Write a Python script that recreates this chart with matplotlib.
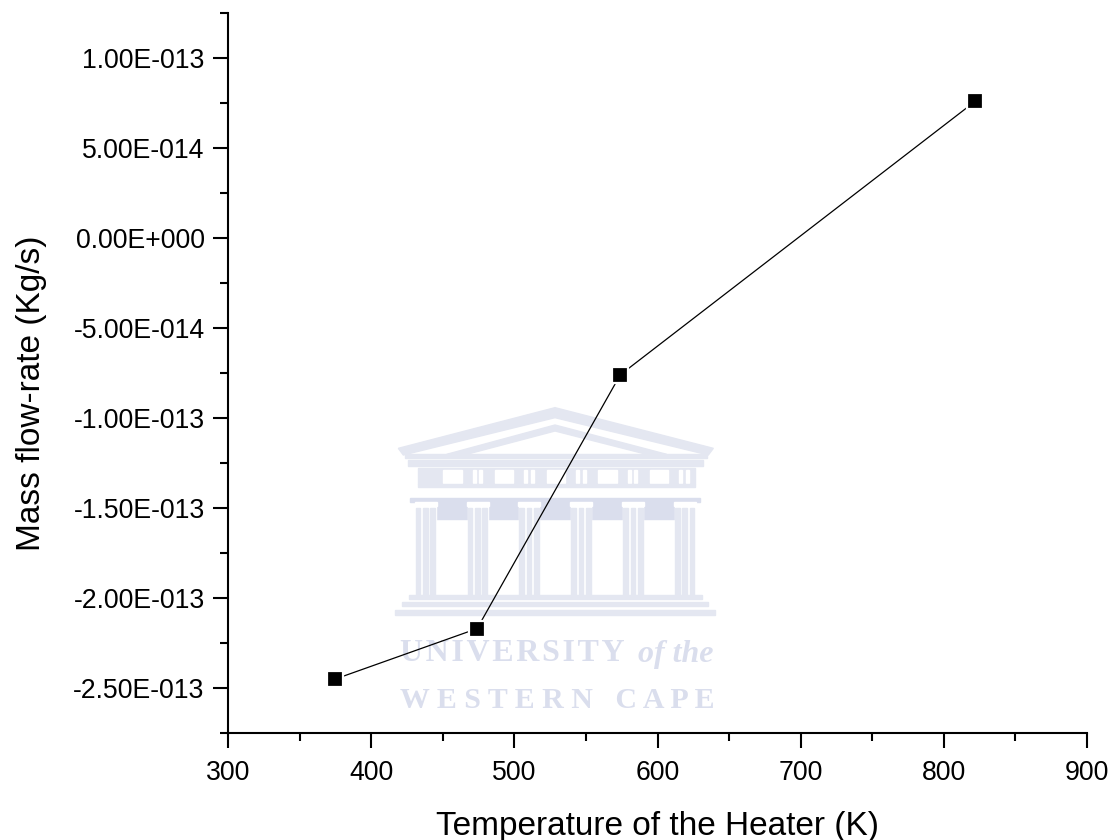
import matplotlib
matplotlib.use('Agg')
import matplotlib.pyplot as plt
from matplotlib.patches import Rectangle, Polygon

plt.rcParams['font.family'] = ['Liberation Sans', 'DejaVu Sans']

temperature = [375, 474, 574, 822]
mass_flow = [-2.45e-13, -2.17e-13, -7.6e-14, 7.6e-14]

x_major = [300, 400, 500, 600, 700, 800, 900]
x_minor = [350, 450, 550, 650, 750, 850]
y_major = [-2.5e-13, -2e-13, -1.5e-13, -1e-13, -5e-14, 0, 5e-14, 1e-13]
y_minor = [-2.75e-13, -2.25e-13, -1.75e-13, -1.25e-13, -7.5e-14, -2.5e-14, 2.5e-14, 7.5e-14, 1.25e-13]
y_labels = ['-2.50E-013', '-2.00E-013', '-1.50E-013', '-1.00E-013', '-5.00E-014',
            '0.00E+000', '5.00E-014', '1.00E-013']

LOGO = '#e4e7f1'
LOGO_DARK = '#dadeed'

column_centers = [137, 293, 448, 604, 760, 915]
window_lefts = [190, 345, 500, 655, 810]


def draw_logo(fig):
    # watermark behind the plot, coordinates are 3x pixels of its own box
    ax = fig.add_axes([380 / 1116, 1 - 725 / 840, 350 / 1116, 330 / 840], zorder=0)
    ax.set_xlim(0, 1050)
    ax.set_ylim(990, 0)
    ax.axis('off')

    ax.add_patch(Polygon([(55, 160), (525, 38), (1000, 160), (985, 180), (525, 68), (70, 180)], color=LOGO))
    ax.add_patch(Polygon([(200, 178), (525, 90), (860, 178), (800, 178), (525, 108), (260, 178)], color=LOGO))
    ax.add_patch(Rectangle((75, 178), 905, 12, color=LOGO))
    ax.add_patch(Rectangle((85, 196), 885, 16, color=LOGO))
    ax.add_patch(Rectangle((115, 220), 830, 48, color=LOGO))
    for left in window_lefts:
        ax.add_patch(Rectangle((left, 225), 55, 38, color='white'))
        ax.add_patch(Rectangle((left + 88, 225), 9, 38, color='white'))
        ax.add_patch(Rectangle((left + 108, 225), 9, 38, color='white'))
    ax.add_patch(Rectangle((115, 268), 830, 7, color=LOGO))
    ax.add_patch(Rectangle((90, 308), 870, 14, color=LOGO_DARK))
    ax.add_patch(Rectangle((110, 322), 830, 50, color=LOGO_DARK))
    for center in column_centers:
        ax.add_patch(Rectangle((center - 33, 320), 66, 14, color='white'))
        ax.add_patch(Rectangle((center - 30, 334), 60, 266, color='white'))
        for offset in (-30, -8, 14):
            ax.add_patch(Rectangle((center + offset, 340), 14, 260, color=LOGO))
    ax.add_patch(Rectangle((88, 600), 878, 12, color=LOGO))
    ax.add_patch(Rectangle((65, 620), 920, 12, color=LOGO))
    ax.add_patch(Rectangle((45, 645), 960, 16, color=LOGO))

    ax.text(60, 775, '\u200a'.join('UNIVERSITY'), family='Liberation Serif', fontsize=23, fontweight='bold',
            color=LOGO_DARK, va='center', ha='left')
    ax.text(1000, 778, 'of the', family='Liberation Serif', fontsize=23, style='italic', fontweight='bold',
            color=LOGO_DARK, va='center', ha='right')
    ax.text(532, 915, 'W E S T E R N   C A P E', family='Liberation Serif', fontsize=21.5, fontweight='bold',
            color=LOGO_DARK, va='center', ha='center')


fig = plt.figure(figsize=(11.16, 8.4), dpi=100)
draw_logo(fig)

ax = fig.add_axes([228 / 1116, 1 - 733 / 840, 859 / 1116, 720 / 840], zorder=1)
ax.patch.set_alpha(0)
ax.plot(temperature, mass_flow, color='black', lw=0.9, marker='s', ms=12,
        mfc='black', mec='white', mew=1.6, clip_on=False)

ax.set_xlim(300, 900)
ax.set_ylim(-2.75e-13, 1.25e-13)
ax.spines['top'].set_visible(False)
ax.spines['right'].set_visible(False)
ax.spines['left'].set_linewidth(1.5)
ax.spines['bottom'].set_linewidth(1.5)

ax.set_xticks(x_major)
ax.set_xticks(x_minor, minor=True)
ax.set_yticks(y_major)
ax.set_yticklabels(y_labels)
ax.set_yticks(y_minor, minor=True)
ax.tick_params(which='major', length=10.8, width=1.5, labelsize=19.2, pad=6)
ax.tick_params(axis='x', which='major', pad=9)
ax.tick_params(which='minor', length=5.8, width=1.5)

ax.set_xlabel('Temperature of the Heater (K)', fontsize=24, va='baseline')
ax.set_ylabel('Mass flow-rate (Kg/s)', fontsize=24, va='baseline')
ax.xaxis.set_label_coords(0.5, -0.1417)
ax.yaxis.set_label_coords(-0.2189, 0.472)

fig.savefig('out.png', dpi=100)
